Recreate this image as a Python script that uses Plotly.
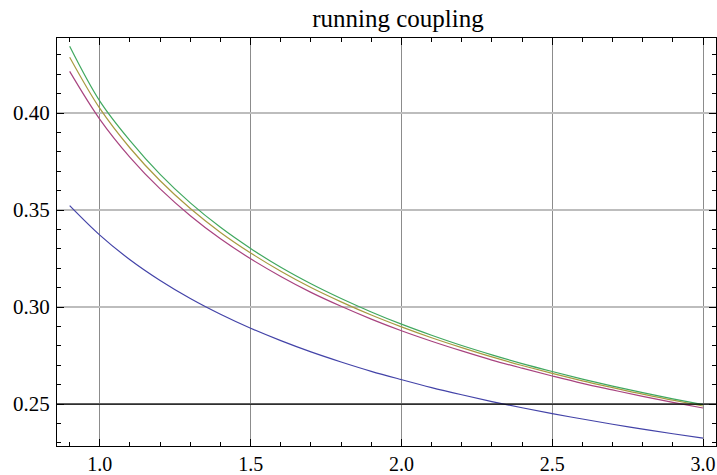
import plotly.graph_objects as go

x_vals = [0.9, 1.0, 1.1, 1.2, 1.3, 1.4, 1.5, 1.6, 1.7, 1.8, 1.9, 2.0,
          2.1, 2.2, 2.3, 2.4, 2.5, 2.6, 2.7, 2.8, 2.9, 3.0]

alpha_blue = [0.3523, 0.3371, 0.3244, 0.3137, 0.3044, 0.2963, 0.2891, 0.2827,
              0.2769, 0.2717, 0.2669, 0.2626, 0.2585, 0.2548, 0.2513, 0.2481,
              0.2451, 0.2423, 0.2396, 0.2371, 0.2347, 0.2325]
alpha_magenta = [0.4215, 0.3968, 0.3772, 0.3609, 0.3471, 0.3352, 0.3249, 0.3158,
                 0.3076, 0.3004, 0.2938, 0.2878, 0.2824, 0.2774, 0.2727, 0.2685,
                 0.2645, 0.2607, 0.2573, 0.2540, 0.2509, 0.2480]
alpha_gold = [0.4288, 0.4024, 0.3820, 0.3651, 0.3508, 0.3385, 0.3279, 0.3185,
              0.3101, 0.3027, 0.2959, 0.2898, 0.2842, 0.2791, 0.2743, 0.2699,
              0.2658, 0.2620, 0.2585, 0.2551, 0.2520, 0.2490]
alpha_green = [0.4345, 0.4062, 0.3858, 0.3684, 0.3537, 0.3411, 0.3302, 0.3205,
               0.3120, 0.3044, 0.2975, 0.2912, 0.2855, 0.2802, 0.2754, 0.2709,
               0.2668, 0.2629, 0.2593, 0.2559, 0.2527, 0.2497]

reference_level = 0.25

x_ticks = [1.0, 1.5, 2.0, 2.5, 3.0]
x_tick_labels = ["1.0", "1.5", "2.0", "2.5", "3.0"]
y_ticks = [0.25, 0.30, 0.35, 0.40]
y_tick_labels = ["0.25", "0.30", "0.35", "0.40"]

series = [
    (alpha_blue, "#4343a8"),
    (alpha_magenta, "#a8437f"),
    (alpha_gold, "#a89a40"),
    (alpha_green, "#40a85f"),
]

SERIF = "Liberation Serif"

fig = go.Figure()
for ys, col in series:
    fig.add_trace(go.Scatter(x=x_vals, y=ys, mode="lines",
                             line=dict(color=col, width=1.2, shape="spline"),
                             showlegend=False, hoverinfo="skip"))

fig.add_hline(y=reference_level, line=dict(color="black", width=1.2), layer="above")

fig.update_layout(
    width=717, height=475,
    margin=dict(l=57, r=1, t=38, b=29, autoexpand=False),
    paper_bgcolor="white", plot_bgcolor="white",
    font=dict(family=SERIF, size=21, color="black"),
    title=dict(text="running coupling", x=398 / 717, xanchor="center",
               y=1 - 18 / 475, yanchor="middle",
               font=dict(family=SERIF, size=25, color="black")),
    xaxis=dict(range=[0.858, 3.043], tickvals=x_ticks, ticktext=x_tick_labels,
               tickfont=dict(family=SERIF, size=20, color="black"),
               automargin=False,
               showgrid=True, gridcolor="#8c8c8c", gridwidth=1,
               zeroline=False, showline=True, linecolor="black", linewidth=1,
               mirror="allticks", ticks="inside", ticklen=7, tickcolor="black",
               ticklabelstandoff=0,
               minor=dict(ticks="inside", dtick=0.1, tick0=0, ticklen=4,
                          tickcolor="black", showgrid=False)),
    yaxis=dict(range=[0.2284, 0.4387], tickvals=y_ticks, ticktext=y_tick_labels,
               tickfont=dict(family=SERIF, size=21, color="black"),
               automargin=False,
               showgrid=True, gridcolor="#bdbdbd", gridwidth=2,
               zeroline=False, showline=True, linecolor="black", linewidth=1,
               mirror="allticks", ticks="inside", ticklen=7, tickcolor="black",
               ticklabelstandoff=2,
               minor=dict(ticks="inside", dtick=0.01, tick0=0, ticklen=4,
                          tickcolor="black", showgrid=False)),
)

fig.write_html("out.html")
